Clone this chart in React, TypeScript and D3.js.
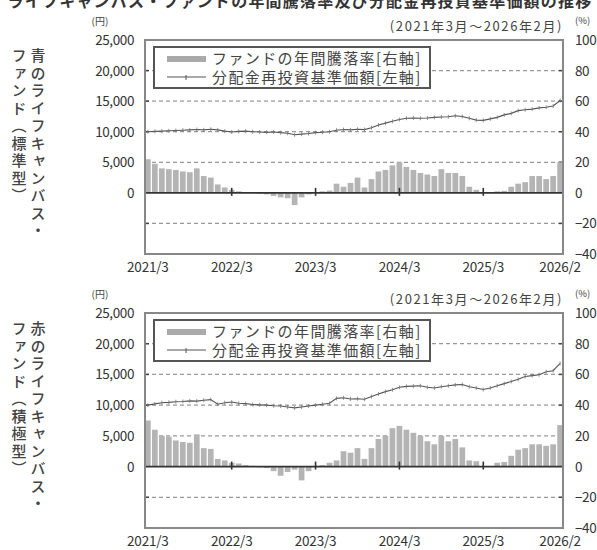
import { useEffect, useRef } from "react";
import * as d3 from "d3";

// 2021/3 .. 2026/2
const months = [
  "2021/3", "2021/4", "2021/5", "2021/6", "2021/7", "2021/8", "2021/9", "2021/10", "2021/11", "2021/12",
  "2022/1", "2022/2", "2022/3", "2022/4", "2022/5", "2022/6", "2022/7", "2022/8", "2022/9", "2022/10",
  "2022/11", "2022/12", "2023/1", "2023/2", "2023/3", "2023/4", "2023/5", "2023/6", "2023/7", "2023/8",
  "2023/9", "2023/10", "2023/11", "2023/12", "2024/1", "2024/2", "2024/3", "2024/4", "2024/5", "2024/6",
  "2024/7", "2024/8", "2024/9", "2024/10", "2024/11", "2024/12", "2025/1", "2025/2", "2025/3", "2025/4",
  "2025/5", "2025/6", "2025/7", "2025/8", "2025/9", "2025/10", "2025/11", "2025/12", "2026/1", "2026/2",
];

const xTickLabels = ["2021/3", "2022/3", "2023/3", "2024/3", "2025/3", "2026/2"];
const yearMarks = ["2022/3", "2023/3", "2024/3", "2025/3"];
const leftTicks = [25000, 20000, 15000, 10000, 5000, 0];
const rightTicks = [100, 80, 60, 40, 20, 0, -20, -40];
const gridValues = [20000, 15000, 10000, 5000, -5000];

// 青のライフキャンバス・ファンド（標準型）
const blueReturn = [
  22, 19, 16, 15.5, 15, 14, 13.5, 16, 11, 10, 5.5, 3.5, 2, 1, 0.5, 0.3, -0.5, -1, -2, -3,
  -3.5, -8, -3, -1, 0.5, 1, 1.5, 6, 4, 6.5, 10, 3.5, 9, 14, 15, 18, 20, 17, 15, 13,
  12, 11, 15.5, 13, 13, 11, 4, 2, 0.5, 0.3, 1, 1.3, 4, 6, 7, 11, 11, 9, 11, 20,
];
const blueNav = [
  10000, 10050, 10100, 10150, 10200, 10250, 10300, 10350, 10300, 10400, 10300, 10100, 9950, 10050, 10100, 10000, 9950, 9900, 9950, 9850,
  9750, 9500, 9600, 9700, 9850, 9900, 10000, 10250, 10350, 10300, 10400, 10350, 10650, 11100, 11400, 11700, 12000, 12200, 12250, 12200,
  12250, 12350, 12400, 12450, 12600, 12500, 12200, 11900, 11850, 12100, 12350, 12750, 13000, 13450, 13600, 13700, 13900, 14000, 14200, 15100,
];

// 赤のライフキャンバス・ファンド（積極型）
const redReturn = [
  30, 24, 20, 19.5, 17, 16, 15.5, 21, 12, 11.5, 5, 4, 2.5, 2, 1, 0.5, -0.5, -1, -3, -6,
  -3.5, -2, -9, -3, 0.5, 1, 2.5, 4, 10, 9, 12, 5, 12, 18, 20, 25, 26.5, 24, 22, 20,
  16.5, 14.5, 20, 16.5, 18, 12.5, 4, 3.5, 0.3, 0.3, 2.5, 3, 7, 11, 12, 14.5, 14.5, 13.5, 14.5, 27,
];
const redNav = [
  10000, 10200, 10400, 10450, 10550, 10600, 10700, 10650, 10800, 10900, 10150, 10400, 10500, 10300, 10250, 10100, 10050, 10000, 9900, 9850,
  9700, 9550, 9700, 9850, 10000, 10150, 10300, 11100, 11200, 11000, 11050, 10950, 11400, 11800, 12200, 12500, 12900, 13050, 13100, 13150,
  12900, 12800, 13000, 13150, 13300, 13350, 13000, 12800, 12550, 12800, 13150, 13500, 13850, 14200, 14650, 14800, 14950, 15450, 15600, 16800,
];

const title = "ライフキャンバス・ファンドの年間騰落率及び分配金再投資基準価額の推移";
const period = "(2021年3月～2026年2月)";
const legendBar = "ファンドの年間騰落率[右軸]";
const legendLine = "分配金再投資基準価額[左軸]";

const FONT = "'Noto Sans CJK JP', 'Noto Sans', sans-serif";

const panels = [
  { name1: "青のライフキャンバス・", name2: "ファンド（標準型）", ret: blueReturn, nav: blueNav, top: 40, bottom: 254 },
  { name1: "赤のライフキャンバス・", name2: "ファンド（積極型）", ret: redReturn, nav: redNav, top: 313, bottom: 528 },
];

export default function App() {
  const svgRef = useRef<SVGSVGElement>(null);

  useEffect(() => {
    if (!svgRef.current) return;
    const svg = d3.select(svgRef.current);
    svg.selectAll("*").remove();

    const left = 145;
    const right = 563;

    const x = d3.scaleBand<string>().domain(months).range([left, right]).paddingInner(0.18);
    const cx = (m: string) => (x(m) ?? 0) + x.bandwidth() / 2;

    // Title (top part outside the picture, as in the source)
    svg
      .append("text")
      .attr("x", 300)
      .attr("y", 7)
      .attr("text-anchor", "middle")
      .attr("font-size", 16)
      .attr("font-weight", "bold")
      .attr("fill", "#333")
      .attr("letter-spacing", 1.2)
      .text(title);

    panels.forEach((p) => {
      const yL = d3.scaleLinear().domain([-10000, 25000]).range([p.bottom, p.top]);
      const yR = d3.scaleLinear().domain([-40, 100]).range([p.bottom, p.top]);
      const g = svg.append("g");

      // Fund name, vertical
      [
        { t: p.name1, x: 38 },
        { t: p.name2, x: 19 },
      ].forEach((c) => {
        g.append("text")
          .attr("x", c.x)
          .attr("y", p.top + 8)
          .attr("font-size", 15)
          .attr("font-weight", 500)
          .attr("fill", "#444")
          .attr("letter-spacing", 2.5)
          .style("writing-mode", "vertical-rl")
          .text(c.t);
      });

      // plot background
      g.append("rect")
        .attr("x", left)
        .attr("y", p.top)
        .attr("width", right - left)
        .attr("height", p.bottom - p.top)
        .attr("fill", "#fff");

      // Grid lines
      gridValues.forEach((v) => {
        g.append("line")
          .attr("x1", left)
          .attr("x2", right)
          .attr("y1", yL(v))
          .attr("y2", yL(v))
          .attr("stroke", "#999")
          .attr("stroke-width", 1.2)
          .attr("stroke-dasharray", "4,3");
        [left, right - 4].forEach((tx) => {
          g.append("line")
            .attr("x1", tx)
            .attr("x2", tx + 4)
            .attr("y1", yL(v))
            .attr("y2", yL(v))
            .attr("stroke", "#444")
            .attr("stroke-width", 1.5);
        });
      });

      // Bars (right axis)
      g.selectAll("rect.bar")
        .data(p.ret)
        .enter()
        .append("rect")
        .attr("class", "bar")
        .attr("x", (_, i) => x(months[i]) ?? 0)
        .attr("width", x.bandwidth())
        .attr("y", (d) => Math.min(yR(d), yR(0)))
        .attr("height", (d) => Math.abs(yR(d) - yR(0)))
        .attr("fill", "#b4b4b4");

      // Zero line
      g.append("line")
        .attr("x1", left)
        .attr("x2", right)
        .attr("y1", yR(0))
        .attr("y2", yR(0))
        .attr("stroke", "#333")
        .attr("stroke-width", 1.8);

      yearMarks.forEach((m) => {
        g.append("line")
          .attr("x1", cx(m))
          .attr("x2", cx(m))
          .attr("y1", yR(0) - 5)
          .attr("y2", yR(0) + 3)
          .attr("stroke", "#333")
          .attr("stroke-width", 1.6);
      });

      // NAV line (left axis)
      const line = d3
        .line<number>()
        .x((_, i) => cx(months[i]))
        .y((d) => yL(d));
      g.append("path")
        .datum(p.nav)
        .attr("d", line)
        .attr("fill", "none")
        .attr("stroke", "#555")
        .attr("stroke-width", 1.1);
      g.selectAll("line.mk")
        .data(p.nav)
        .enter()
        .append("line")
        .attr("class", "mk")
        .attr("x1", (_, i) => cx(months[i]))
        .attr("x2", (_, i) => cx(months[i]))
        .attr("y1", (d) => yL(d) - 2)
        .attr("y2", (d) => yL(d) + 2)
        .attr("stroke", "#777")
        .attr("stroke-width", 0.8);

      // Frame
      g.append("rect")
        .attr("x", left)
        .attr("y", p.top)
        .attr("width", right - left)
        .attr("height", p.bottom - p.top)
        .attr("fill", "none")
        .attr("stroke", "#888")
        .attr("stroke-width", 2);

      // Legend
      const lx = left + 9;
      const ly = p.top + 7;
      g.append("rect")
        .attr("x", lx)
        .attr("y", ly)
        .attr("width", 276)
        .attr("height", 41)
        .attr("fill", "#fff")
        .attr("stroke", "#555")
        .attr("stroke-width", 2);
      g.append("rect")
        .attr("x", lx + 13)
        .attr("y", ly + 9)
        .attr("width", 39)
        .attr("height", 6)
        .attr("fill", "#aaa");
      g.append("line")
        .attr("x1", lx + 13)
        .attr("x2", lx + 52)
        .attr("y1", ly + 30)
        .attr("y2", ly + 30)
        .attr("stroke", "#555")
        .attr("stroke-width", 1.1);
      g.append("line")
        .attr("x1", lx + 32)
        .attr("x2", lx + 32)
        .attr("y1", ly + 28)
        .attr("y2", ly + 33)
        .attr("stroke", "#555")
        .attr("stroke-width", 1);
      [
        { t: legendBar, y: ly + 17 },
        { t: legendLine, y: ly + 36 },
      ].forEach((r) => {
        g.append("text")
          .attr("x", lx + 58)
          .attr("y", r.y)
          .attr("font-size", 15)
          .attr("letter-spacing", 1.4)
          .attr("fill", "#444")
          .text(r.t);
      });

      // Left axis labels
      g.append("text")
        .attr("x", 100)
        .attr("y", p.top - 15)
        .attr("text-anchor", "middle")
        .attr("font-size", 10)
        .attr("fill", "#444")
        .text("(円)");
      leftTicks.forEach((v) => {
        g.append("text")
          .attr("x", 134)
          .attr("y", yL(v) + 5)
          .attr("text-anchor", "end")
          .attr("font-size", 13.5)
          .attr("letter-spacing", -0.4)
          .attr("fill", "#333")
          .text(d3.format(",")(v));
      });

      // Right axis labels
      g.append("text")
        .attr("x", 575)
        .attr("y", p.top - 16)
        .attr("font-size", 9.5)
        .attr("fill", "#444")
        .text("(%)");
      rightTicks.forEach((v) => {
        g.append("text")
          .attr("x", 575)
          .attr("y", yR(v) + 5)
          .attr("font-size", 13.5)
          .attr("letter-spacing", -0.4)
          .attr("fill", "#333")
          .text(v < 0 ? "−" + Math.abs(v) : String(v));
      });

      // Period
      g.append("text")
        .attr("x", right)
        .attr("y", p.top - 9)
        .attr("text-anchor", "end")
        .attr("font-size", 13)
        .attr("letter-spacing", 1.6)
        .attr("fill", "#444")
        .text(period);

      // X labels
      xTickLabels.forEach((m) => {
        g.append("text")
          .attr("x", cx(m))
          .attr("y", p.bottom + 18)
          .attr("text-anchor", "middle")
          .attr("font-size", 13.5)
          .attr("letter-spacing", -0.2)
          .attr("fill", "#333")
          .text(m);
      });
    });
  }, []);

  return (
    <svg
      ref={svgRef}
      width={597}
      height={550}
      style={{ position: "absolute", left: 0, top: 0, background: "#fff", fontFamily: FONT }}
    ></svg>
  );
}
